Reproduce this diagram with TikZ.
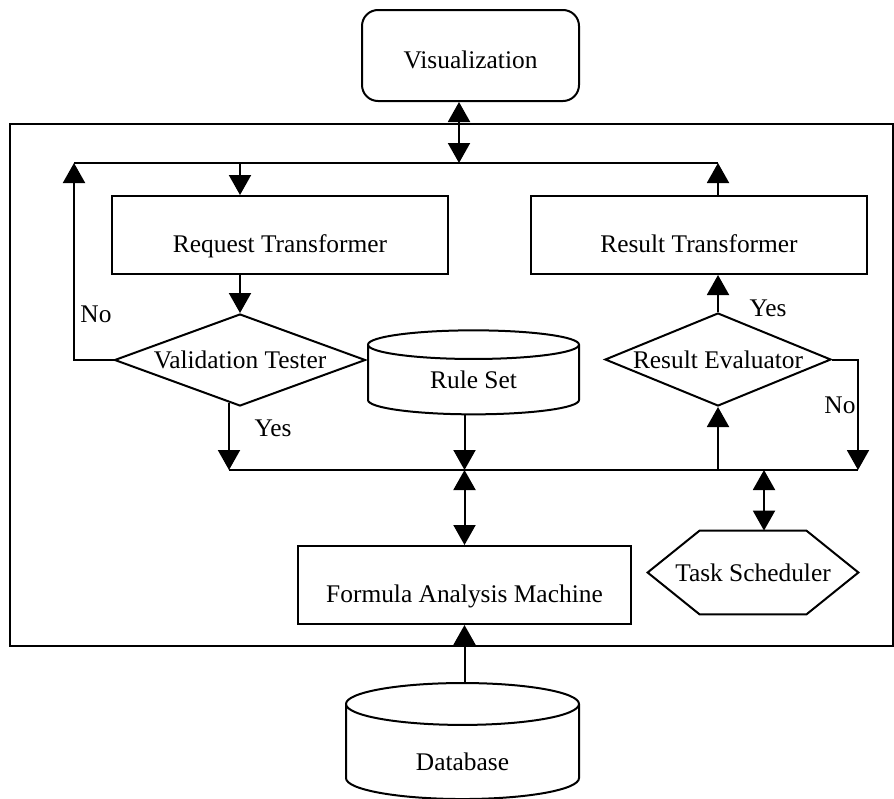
\documentclass[tikz,border=0pt]{standalone}
\usepackage{fontspec}
\setmainfont{Liberation Serif}
\usetikzlibrary{arrows.meta,shapes.geometric,calc}

\tikzset{
  unit/.style={line width=1pt},
  block/.style={draw, unit, inner sep=0pt, minimum width=168pt, minimum height=39pt,
    text height=17pt, text depth=0pt},
  decision/.style={draw, unit, diamond, inner sep=0pt},
  store/.style={draw, unit, cylinder, shape border rotate=90, inner sep=0pt},
  flow/.style={unit, -{Triangle[length=10pt,width=11pt]}},
  biflow/.style={unit, {Triangle[length=10pt,width=11pt]}-{Triangle[length=10pt,width=11pt]}},
  tag/.style={inner sep=0pt}
}

\begin{document}
\begin{tikzpicture}[x=0.5pt,y=-0.5pt,font=\fontsize{12.7}{15}\selectfont]
\useasboundingbox (0,0) rectangle (894,798);
% outer frame
\draw[unit] (10,124) rectangle (893,646);

\node[draw, unit, rounded corners=8pt, minimum width=108.5pt, minimum height=45.5pt,
  inner sep=0pt, text height=12.5pt, text depth=0pt] (vis) at (470.5,55.5) {Visualization};
\node[block] (req) at (280,235) {Request Transformer};
\node[block] (res) at (699,235) {Result Transformer};
\node[decision, aspect=2.73, minimum width=125.5pt, minimum height=46pt] (valid) at (240,360) {Validation Tester};
\node[decision, aspect=2.43, minimum width=113pt, minimum height=46.5pt] (eval) at (718,359.5) {Result Evaluator};
\node[store, aspect=0.33, minimum width=105.5pt, minimum height=42pt] (rules) at (473.5,380) {Rule Set};
\node[block, minimum width=166.5pt] (fam) at (464.5,585) {Formula Analysis Machine};
\node[minimum width=105pt, minimum height=41.5pt, inner sep=0pt] (sched) at (753,572.5) {Task Scheduler};
\draw[unit] (sched.west) -- ([xshift=26pt]sched.north west) -- ([xshift=-26pt]sched.north east)
  -- (sched.east) -- ([xshift=-26pt]sched.south east) -- ([xshift=26pt]sched.south west) -- cycle;
\node[store, aspect=0.45, minimum width=116.5pt, minimum height=58pt,
  text height=18.7pt, text depth=0pt] (db) at (462.5,752) {Database};

% bus points
\coordinate (tL) at (74,163);
\coordinate (tV) at (459,163);
\coordinate (tR) at (718,163);
\coordinate (bL) at (229,470);
\coordinate (bR) at (858,470);
\coordinate (sT) at ($(sched.north)+(11,0)$);

\draw[unit] (tL) -- (tR);
\draw[unit] (bL) -- (bR);
\draw[biflow] (vis.south -| tV) -- (tV);
\draw[flow] (valid.north |- tL) -- (valid.north |- req.north);
\draw[flow] (valid.north |- req.south) -- (valid.north);
\draw[flow] (valid.west) -| (tL);
\draw[flow] ($(valid.south)+(-11,-4)$) -- (bL);
\draw[flow] (rules.south -| fam.north) -- (fam.north |- bL);
\draw[flow] (tR |- res.north) -- (tR);
\draw[flow] (eval.north) -- (eval.north |- res.south);
\draw[flow] (eval.south |- bL) -- (eval.south);
\draw[flow] (eval.east) -| (bR);
\draw[biflow] (fam.north |- bL) -- (fam.north);
\draw[biflow] (sT |- bL) -- (sT);
\draw[flow] (db.north -| fam.south) -- (fam.south);

\node[tag] (no1) at (96,314) {No};
\node[tag] (yes1) at (273,428) {Yes};
\node[tag] (yes2) at (768,308) {Yes};
\node[tag] (no2) at (840,405) {No};
\end{tikzpicture}
\end{document}
